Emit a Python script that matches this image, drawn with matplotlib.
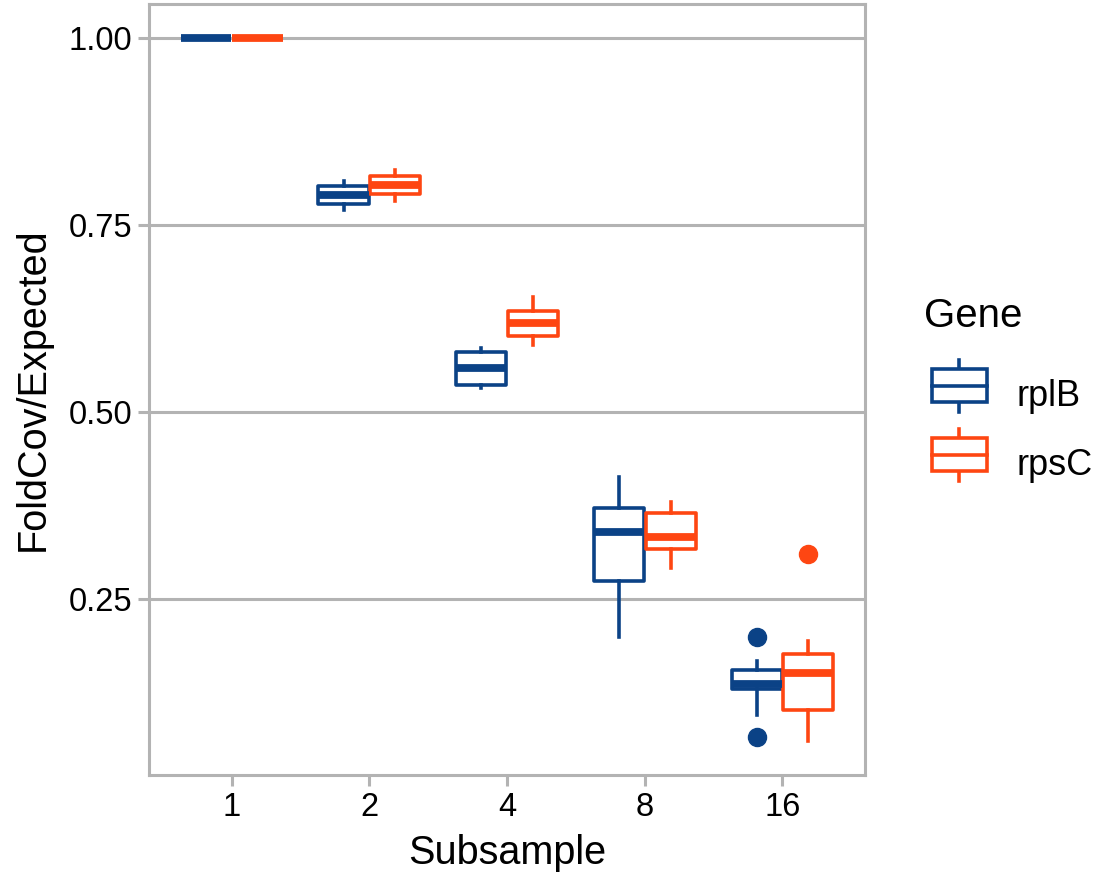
import matplotlib
matplotlib.use("Agg")
import matplotlib.pyplot as plt
from matplotlib.patches import Rectangle
from matplotlib.lines import Line2D
from matplotlib.legend_handler import HandlerBase

plt.rcParams['font.family'] = ['Liberation Sans', 'DejaVu Sans']

# data (per gene, per subsample)
subsamples = ["1", "2", "4", "8", "16"]
genes = ["rplB", "rpsC"]
colors = {"rplB": "#0b4286", "rpsC": "#fe4612"}

rplB_whislo = [1.0, 0.770, 0.532, 0.199, 0.095]
rplB_q1 = [1.0, 0.778, 0.536, 0.274, 0.130]
rplB_med = [1.0, 0.790, 0.559, 0.340, 0.137]
rplB_q3 = [1.0, 0.802, 0.580, 0.372, 0.155]
rplB_whishi = [1.0, 0.809, 0.586, 0.413, 0.167]
rplB_fliers = [[], [], [], [], [0.199, 0.066]]

rpsC_whislo = [1.0, 0.782, 0.590, 0.291, 0.060]
rpsC_q1 = [1.0, 0.791, 0.602, 0.317, 0.102]
rpsC_med = [1.0, 0.803, 0.619, 0.333, 0.151]
rpsC_q3 = [1.0, 0.816, 0.635, 0.365, 0.176]
rpsC_whishi = [1.0, 0.824, 0.654, 0.380, 0.194]
rpsC_fliers = [[], [], [], [], [0.310]]

series = {
    "rplB": (rplB_whislo, rplB_q1, rplB_med, rplB_q3, rplB_whishi, rplB_fliers),
    "rpsC": (rpsC_whislo, rpsC_q1, rpsC_med, rpsC_q3, rpsC_whishi, rpsC_fliers),
}

grey = "#b3b3b3"
lw = 2.6

fig = plt.figure(figsize=(11, 8.76), dpi=100)
ax = fig.add_axes([0.1355, 0.1153, 0.6509, 0.8801])

ax.yaxis.grid(True, color=grey, linewidth=2.2, zorder=0)
ax.set_axisbelow(True)

box_w = 0.375
for k, g in enumerate(genes):
    lo, q1, med, q3, hi, fl = series[g]
    stats = []
    for i in range(len(subsamples)):
        stats.append(dict(med=med[i], q1=q1[i], q3=q3[i], whislo=lo[i],
                          whishi=hi[i], fliers=fl[i]))
    pos = [i + 1 + (k - 0.5) * box_w for i in range(len(subsamples))]
    c = colors[g]
    ax.bxp(stats, positions=pos, widths=box_w * 0.97, showcaps=False,
           patch_artist=True, manage_ticks=False,
           boxprops=dict(facecolor="white", edgecolor=c, linewidth=lw,
                         joinstyle="round"),
           medianprops=dict(color=c, linewidth=5.6, solid_capstyle="butt"),
           whiskerprops=dict(color=c, linewidth=lw),
           flierprops=dict(marker="o", markerfacecolor=c, markeredgecolor=c,
                           markersize=13, linestyle="none"))

ax.set_xlim(0.4, 5.6)
ax.set_ylim(0.0147, 1.0455)
ax.set_xticks(range(1, len(subsamples) + 1))
ax.set_xticklabels(subsamples)
ax.set_yticks([0.25, 0.50, 0.75, 1.00])
ax.set_yticklabels(["0.25", "0.50", "0.75", "1.00"])
ax.tick_params(axis="both", length=8, width=2.2, color=grey, labelsize=23.5,
               labelcolor="black", pad=4)
for s in ax.spines.values():
    s.set_color(grey)
    s.set_linewidth(2.2)

ax.set_xlabel("Subsample", fontsize=28.5, labelpad=8)
ax.set_ylabel("FoldCov/Expected", fontsize=28.5, labelpad=12)


class BoxKey(HandlerBase):
    def create_artists(self, legend, orig, xd, yd, w, h, fontsize, trans):
        c = orig.get_color()
        bx0, bw = xd + 0.12 * w, 0.9 * w
        by0, bh = yd, h
        rect = Rectangle((bx0, by0), bw, bh, facecolor="white", edgecolor=c,
                         linewidth=lw, transform=trans)
        mid = Line2D([bx0, bx0 + bw], [by0 + bh / 2, by0 + bh / 2], color=c,
                     linewidth=lw, transform=trans)
        cx = bx0 + bw / 2
        up = Line2D([cx, cx], [by0 + bh, by0 + bh + 0.3 * h], color=c,
                    linewidth=lw, transform=trans)
        dn = Line2D([cx, cx], [by0, by0 - 0.3 * h], color=c,
                    linewidth=lw, transform=trans)
        return [up, dn, rect, mid]


handles = [Line2D([], [], color=colors[g]) for g in genes]
leg = fig.legend(handles, genes, handler_map={Line2D: BoxKey()},
                 loc="upper left", bbox_to_anchor=(0.827, 0.678),
                 frameon=False, fontsize=26, title="Gene", title_fontsize=29,
                 handlelength=1.7, handleheight=1.02, labelspacing=0.89,
                 handletextpad=0.85, borderaxespad=0)
leg._legend_box.align = "left"
leg._legend_box.sep = 31

fig.savefig("out.png", dpi=100)
